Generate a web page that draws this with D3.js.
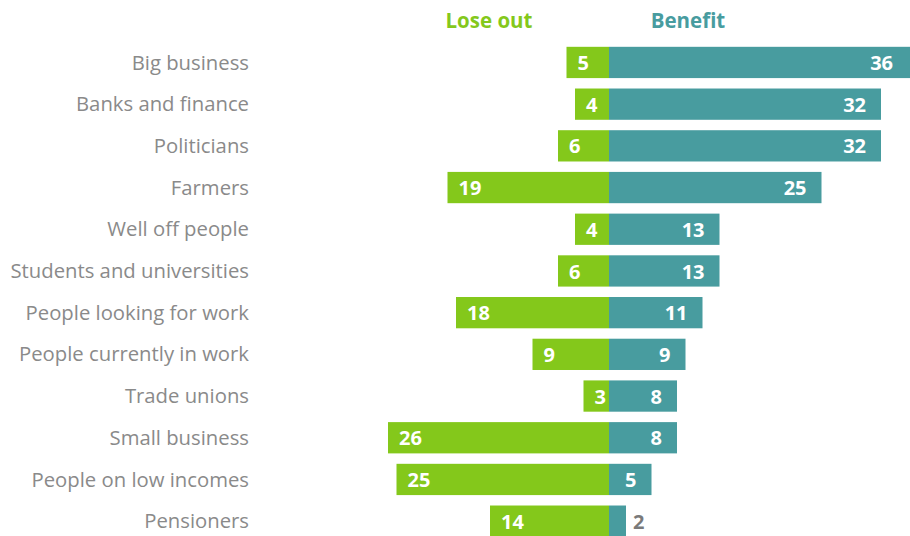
<!DOCTYPE html>
<html>
<head>
<meta charset="utf-8">
<script src="https://cdn.jsdelivr.net/npm/d3@7/dist/d3.min.js"></script>
<style>
  html, body { margin: 0; padding: 0; background: #fff; }
  svg { display: block; }
  text { font-family: "Open Sans", Lato, sans-serif; }
</style>
</head>
<body>
<svg id="chart" width="910" height="536"></svg>
<script>
// Who is seen to benefit / lose out (percent)
const categories = [
  "Big business", "Banks and finance", "Politicians", "Farmers",
  "Well off people", "Students and universities", "People looking for work",
  "People currently in work", "Trade unions", "Small business",
  "People on low incomes", "Pensioners"
];
const loseOut = [5, 4, 6, 19, 4, 6, 18, 9, 3, 26, 25, 14];
const benefit = [36, 32, 32, 25, 13, 13, 11, 9, 8, 8, 5, 2];
const seriesNames = ["Lose out", "Benefit"];

const green = "#84c81b";
const teal = "#489c9f";

const svg = d3.select("#chart");

const x = d3.scaleLinear().domain([-30, 36]).range([354, 915]);
const y = d3.scaleBand().domain(categories).range([41.6, 542]).paddingInner(0.25).paddingOuter(0.125);

const rows = categories.map((c, i) => ({ c, lose: loseOut[i], ben: benefit[i] }));

// Series headers
svg.append("text")
  .attr("x", 489).attr("y", 28)
  .attr("text-anchor", "middle")
  .attr("fill", green).attr("font-weight", 700).attr("font-size", 20.5)
  .text(seriesNames[0]);
svg.append("text")
  .attr("x", 688).attr("y", 28)
  .attr("text-anchor", "middle")
  .attr("fill", teal).attr("font-weight", 700).attr("font-size", 20.5)
  .text(seriesNames[1]);

// Category labels
svg.append("g").selectAll("text").data(rows).join("text")
  .attr("x", 249)
  .attr("y", d => y(d.c) + y.bandwidth() / 2)
  .attr("dy", "0.35em")
  .attr("text-anchor", "end")
  .attr("fill", "#8a8a8a")
  .attr("font-size", 20.3)
  .text(d => d.c);

// Lose-out bars (left of zero)
svg.append("g").selectAll("rect").data(rows).join("rect")
  .attr("x", d => x(-d.lose))
  .attr("y", d => y(d.c))
  .attr("width", d => x(0) - x(-d.lose))
  .attr("height", y.bandwidth())
  .attr("fill", green);

// Benefit bars (right of zero)
svg.append("g").selectAll("rect").data(rows).join("rect")
  .attr("x", x(0))
  .attr("y", d => y(d.c))
  .attr("width", d => x(d.ben) - x(0))
  .attr("height", y.bandwidth())
  .attr("fill", teal);

// Lose-out value labels, inside the bar near its outer end
svg.append("g").selectAll("text").data(rows).join("text")
  .attr("x", d => x(-d.lose) + 11)
  .attr("y", d => y(d.c) + y.bandwidth() / 2)
  .attr("dy", "0.38em")
  .attr("fill", "#fff")
  .attr("font-weight", 700)
  .attr("font-size", 20)
  .text(d => d.lose);

// Benefit value labels, inside the bar end; outside in grey when the bar is too short
svg.append("g").selectAll("text").data(rows).join("text")
  .attr("x", d => d.ben < 4 ? x(d.ben) + 7 : Math.min(x(d.ben), 908) - 15)
  .attr("y", d => y(d.c) + y.bandwidth() / 2)
  .attr("dy", "0.38em")
  .attr("text-anchor", d => d.ben < 4 ? "start" : "end")
  .attr("fill", d => d.ben < 4 ? "#7a7a7a" : "#fff")
  .attr("font-weight", 700)
  .attr("font-size", 20)
  .text(d => d.ben);
</script>
</body>
</html>
